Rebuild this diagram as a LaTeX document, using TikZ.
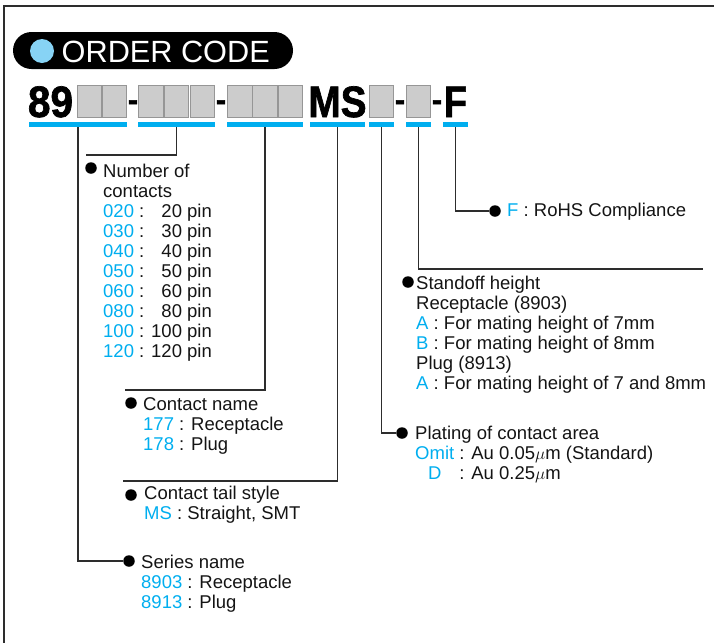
\documentclass[tikz,border=0pt]{standalone}
\usepackage{fontspec}
\usepackage{calc}
\setmainfont{Liberation Sans}
\newfontfamily\codefont[FakeBold=1.6]{Liberation Sans Bold}
\definecolor{cb}{RGB}{0,174,239}
\definecolor{cbar}{RGB}{0,174,239}
\definecolor{pillblue}{RGB}{135,211,245}
\definecolor{ink}{RGB}{20,20,20}
\definecolor{linec}{RGB}{45,45,45}
\definecolor{boxgray}{RGB}{204,204,204}
\definecolor{boxedge}{RGB}{150,150,150}
\definecolor{boxlight}{RGB}{228,228,228}
\newcommand\pinr[1]{\makebox[3.28em][r]{#1}}
\newcommand\cc[1]{\textcolor{cb}{#1}}
\begin{document}
\begin{tikzpicture}[x=1pt,y=-1pt,
  txt/.style={anchor=base west, inner sep=0pt, font=\fontsize{18.5}{20}\selectfont, text=ink},
  bul/.style={circle, fill=black, inner sep=0pt, minimum size=11.5pt},
  bar/.style={fill=cbar, inner sep=0pt, minimum height=5pt},
  gbox/.style={fill=boxgray, draw=boxedge, line width=0.8pt, inner sep=0pt, minimum width=24.5pt, minimum height=32.5pt,
    append after command={[draw=boxlight, line width=0.8pt] ([xshift=1.2pt,yshift=-1.2pt]\tikzlastnode.south west) |- ([xshift=-1.2pt,yshift=-1.2pt]\tikzlastnode.north east)}},
  code/.style={anchor=base, inner sep=0pt, font=\fontsize{44}{44}\selectfont\codefont, text=black},
  dsh/.style={anchor=base, inner sep=0pt, font=\fontsize{30}{30}\selectfont\codefont, text=black},
  conn/.style={draw=linec, line width=1.1pt},
  frame/.style={draw=linec, line width=1.4pt}
]
\useasboundingbox (0,0) rectangle (714,643);
% frame
\draw[frame] (714,6) -- (4,6) -- (4,643);
% header
\node[fill=black, rounded corners=18.5pt, minimum width=280pt, minimum height=37pt, inner sep=0pt] (pill) at (153,50.5) {};
\node[circle, fill=pillblue, minimum size=24pt, inner sep=0pt] (dot) at (42,51) {};
\node[anchor=base west, inner sep=0pt, font=\fontsize{30.7}{31}\selectfont, text=white] (title) at (61.5,62) {ORDER CODE};
% code line
\node[code] (c89) at (50.5,117) {\scalebox{0.92}[1]{89}};
\node[gbox] (g1) at (89.5,101.5) {};
\node[gbox] (g2) at (114.5,101.5) {};
\node[dsh] (d1) at (133,110) {-};
\node[gbox] (g3) at (150.8,101.5) {};
\node[gbox] (g4) at (176.5,101.5) {};
\node[gbox] (g5) at (202.2,101.5) {};
\node[dsh] (d2) at (221,110) {-};
\node[gbox] (g6) at (239.7,101.5) {};
\node[gbox] (g7) at (265,101.5) {};
\node[gbox] (g8) at (290.3,101.5) {};
\node[code] (cms) at (337.5,117) {\scalebox{0.88}[1]{MS}};
\node[gbox] (g9) at (381.5,101.5) {};
\node[dsh] (d3) at (400,110) {-};
\node[gbox] (g10) at (418.5,101.5) {};
\node[dsh] (d4) at (437,110) {-};
\node[code] (cf) at (455.5,117) {\scalebox{0.86}[1]{F}};
% underline bars
\node[bar, minimum width=98pt] (u1) at (78,124.5) {};
\node[bar, minimum width=77pt] (u2) at (176.5,124.5) {};
\node[bar, minimum width=76pt] (u3) at (265,124.5) {};
\node[bar, minimum width=55pt] (u4) at (337.5,124.5) {};
\node[bar, minimum width=25pt] (u5) at (381.5,124.5) {};
\node[bar, minimum width=25pt] (u6) at (418.5,124.5) {};
\node[bar, minimum width=25pt] (u7) at (455.5,124.5) {};
% bullets
\node[bul] (bn) at (91,168) {};
\node[bul] (bc) at (131,403) {};
\node[bul] (bt) at (131,495) {};
\node[bul] (bs) at (129,561) {};
\node[bul] (bf) at (495,211) {};
\node[bul] (bh) at (408,282) {};
\node[bul] (bp) at (402,433) {};
% free ends
\coordinate (e2) at (86,155);
\coordinate (e3) at (125,390);
\coordinate (e4) at (123,481);
\coordinate (e6) at (703,269);
% connectors
\draw[conn] (u1.south) |- (bs.west);
\draw[conn] (u2.south) |- (e2);
\draw[conn] (u3.south) |- (e3);
\draw[conn] (u4.south) |- (e4);
\draw[conn] (u5.south) |- (bp.west);
\draw[conn] (u6.south) |- (e6);
\draw[conn] (u7.south) |- (bf.west);
% number of contacts
\node[txt] (n1) at (103,177) {Number of};
\node[txt] (n2) at (103,197) {contacts};
\node[txt] (n3) at (103,217) {\cc{020} : \pinr{20 pin}};
\node[txt] (n4) at (103,237) {\cc{030} : \pinr{30 pin}};
\node[txt] (n5) at (103,257) {\cc{040} : \pinr{40 pin}};
\node[txt] (n6) at (103,277) {\cc{050} : \pinr{50 pin}};
\node[txt] (n7) at (103,297) {\cc{060} : \pinr{60 pin}};
\node[txt] (n8) at (103,317) {\cc{080} : \pinr{80 pin}};
\node[txt] (n9) at (103,337) {\cc{100} : \pinr{100 pin}};
\node[txt] (n10) at (103,357) {\cc{120} : \pinr{120 pin}};
% contact name
\node[txt] (cn1) at (143,410) {Contact name};
\node[txt] (cn2) at (143,430) {\cc{177} : Receptacle};
\node[txt] (cn3) at (143,450) {\cc{178} : Plug};
% contact tail style
\node[txt] (ct1) at (144,499) {Contact tail style};
\node[txt] (ct2) at (144,519) {\cc{MS} : Straight, SMT};
% series name
\node[txt] (sn1) at (141,568) {Series name};
\node[txt] (sn2) at (141,588) {\cc{8903} : Receptacle};
\node[txt] (sn3) at (141,608) {\cc{8913} : Plug};
% RoHS
\node[txt] (f1) at (507,216) {\cc{F} : RoHS Compliance};
% standoff
\node[txt] (h1) at (416,289) {Standoff height};
\node[txt] (h2) at (416,309) {Receptacle (8903)};
\node[txt] (h3) at (416,329) {\cc{A} : For mating height of 7mm};
\node[txt] (h4) at (416,349) {\cc{B} : For mating height of 8mm};
\node[txt] (h5) at (416,369) {Plug (8913)};
\node[txt] (h6) at (416,389) {\cc{A} : For mating height of 7 and 8mm};
% plating
\node[txt] (p1) at (415,439) {Plating of contact area};
\node[txt] (p2) at (415,459) {\cc{Omit} : Au 0.05$\mu$m (Standard)};
\node[txt] (p3) at (415,479) {\makebox[\widthof{Omit}][c]{\cc{D}} : Au 0.25$\mu$m};
\end{tikzpicture}
\end{document}
